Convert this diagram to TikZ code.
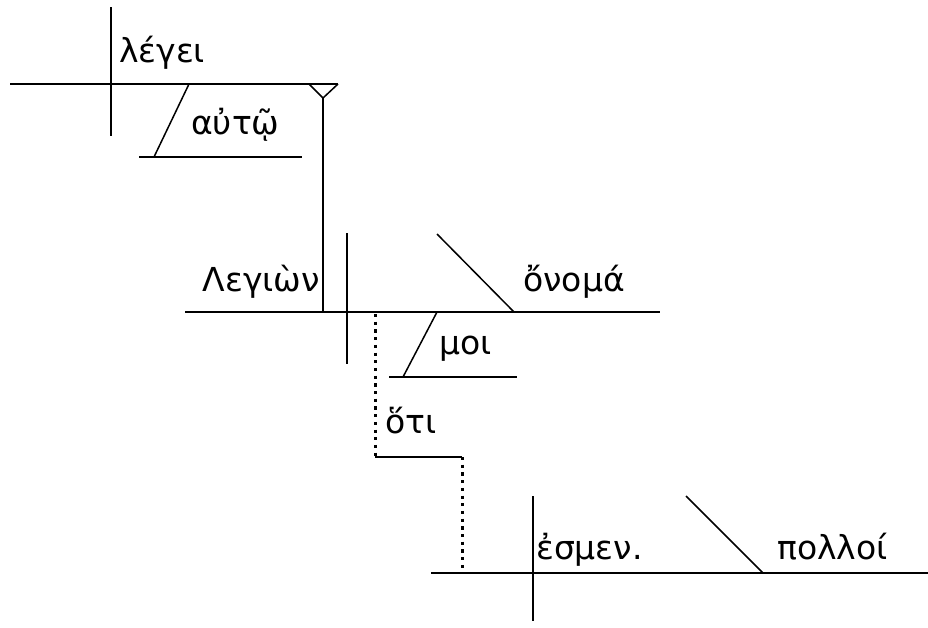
\documentclass[tikz,border=0pt]{standalone}
\usepackage{fontspec}
\setmainfont{DejaVu Sans}
\begin{document}
\begin{tikzpicture}[x=1pt,y=-1pt,
  ln/.style={line width=1.5pt},
  dl/.style={line width=3pt, dash pattern=on 3.2pt off 4.5pt},
  wd/.style={inner sep=0pt, font=\fontsize{33}{36}\selectfont}]
\useasboundingbox (0,0) rectangle (928,627);
% ---- clause 1: legei autw
\coordinate (m1L) at (10,84);   \coordinate (m1R) at (338,84);
\coordinate (d1T) at (111,7);   \coordinate (d1B) at (111,136);
\coordinate (pL) at (309,84);   \coordinate (pA) at (323,98);
\coordinate (pB) at (323,312);
\coordinate (a1) at (189,84);   \coordinate (a2) at (154,157);
\coordinate (a3) at (139,157);  \coordinate (a4) at (302,157);
\node[wd, anchor=base west] (legei) at (119,62) {λέγει};
\node[wd, anchor=base west] (autw) at (191,134) {αὐτῷ};
\draw[ln] (m1L) -- (m1R);
\draw[ln] (d1T) -- (d1B);
\draw[ln] (pL) -- (pA) -- (m1R);
\draw[ln] (pA) -- (pB);
\draw[ln] (a1) -- (a2);
\draw[ln] (a3) -- (a4);
% ---- clause 2: Legiwn onoma moi
\coordinate (m2L) at (185,312); \coordinate (m2R) at (660,312);
\coordinate (d2T) at (347,233); \coordinate (d2B) at (347,364);
\coordinate (o1) at (437,234);  \coordinate (o2) at (514,312);
\coordinate (b1) at (437,312);  \coordinate (b2) at (403,377);
\coordinate (b3) at (389,377);  \coordinate (b4) at (517,377);
\node[wd, anchor=base east] (legiwn) at (320,291) {Λεγιὼν};
\node[wd, anchor=base west] (onoma) at (523,291) {ὄνομά};
\node[wd, anchor=base west] (moi) at (439,354) {μοι};
\draw[ln] (m2L) -- (m2R);
\draw[ln] (d2T) -- (d2B);
\draw[ln] (o1) -- (o2);
\draw[ln] (b1) -- (b2);
\draw[ln] (b3) -- (b4);
% ---- hoti connector
\coordinate (h1) at (375,314);  \coordinate (h2) at (375,457);
\coordinate (h3) at (462,457);  \coordinate (h4) at (462,573);
\node[wd, anchor=base west] (hoti) at (385,433) {ὅτι};
\draw[dl] (h1) -- (h2);
\draw[ln] (h2) -- (h3);
\draw[dl] (h3) -- (h4);
% ---- clause 3: esmen polloi
\coordinate (m3L) at (431,573); \coordinate (m3R) at (928,573);
\coordinate (d3T) at (533,496); \coordinate (d3B) at (533,621);
\coordinate (q1) at (686,496);  \coordinate (q2) at (763,573);
\node[wd, anchor=base west] (esmen) at (536,559) {ἐσμεν.};
\node[wd, anchor=base west] (polloi) at (777,559) {πολλοί};
\draw[ln] (m3L) -- (m3R);
\draw[ln] (d3T) -- (d3B);
\draw[ln] (q1) -- (q2);
\end{tikzpicture}
\end{document}
